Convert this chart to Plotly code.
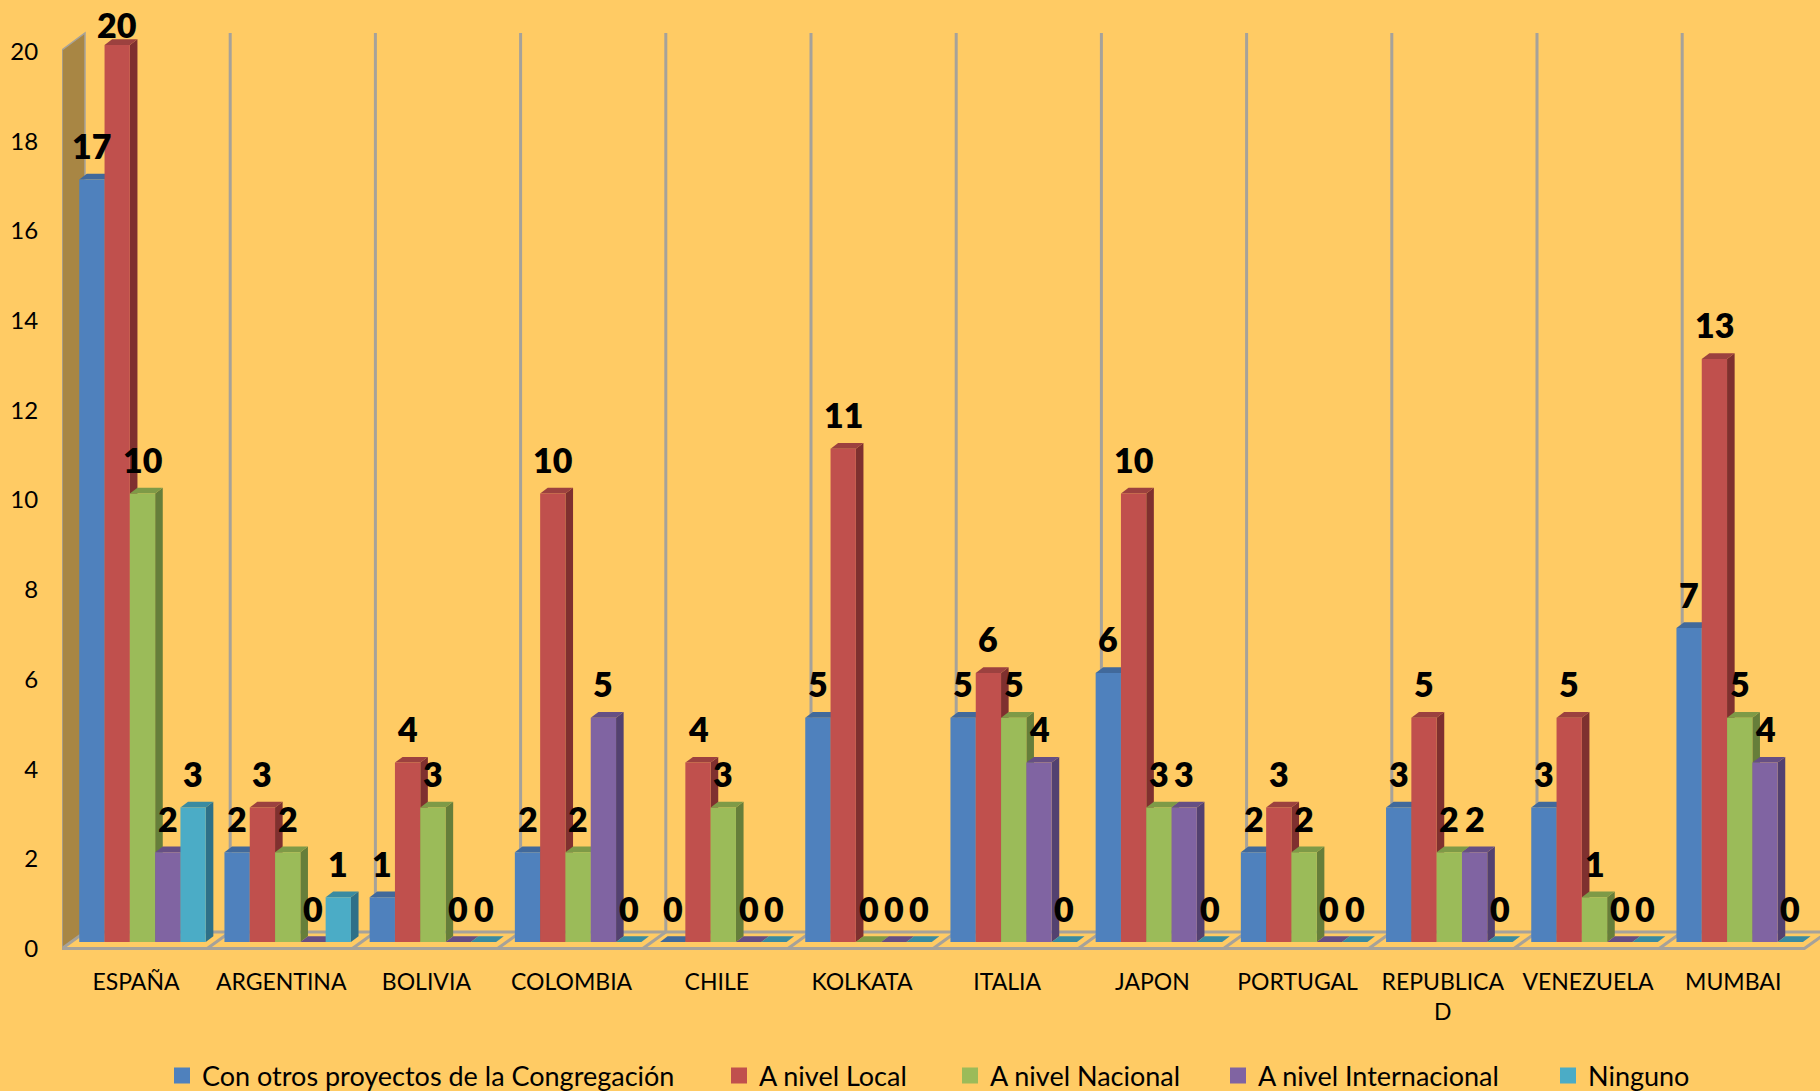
import plotly.graph_objects as go

categories = ["ESPAÑA", "ARGENTINA", "BOLIVIA", "COLOMBIA", "CHILE", "KOLKATA",
              "ITALIA", "JAPON", "PORTUGAL", "REPUBLICA<br>D", "VENEZUELA", "MUMBAI"]
proyectos = [17, 2, 1, 2, 0, 5, 5, 6, 2, 3, 3, 7]
local = [20, 3, 4, 10, 4, 11, 6, 10, 3, 5, 5, 13]
nacional = [10, 2, 3, 2, 3, 0, 5, 3, 2, 2, 1, 5]
internacional = [2, 0, 0, 5, 0, 0, 4, 3, 0, 2, 0, 4]
ninguno = [3, 1, 0, 0, 0, 0, 0, 0, 0, 0, 0, 0]
series_names = ["Con otros proyectos de la Congregación", "A nivel Local", "A nivel Nacional",
                "A nivel Internacional", "Ninguno"]
series_values = [proyectos, local, nacional, internacional, ninguno]
y_ticks = [0, 2, 4, 6, 8, 10, 12, 14, 16, 18, 20]

front = ["#4F81BD", "#C0504D", "#9BBB59", "#8064A2", "#4BACC6"]
top = ["#41699B", "#9C413F", "#7E9A47", "#664F84", "#3A8BA1"]
side = ["#375A85", "#7F302F", "#667E3A", "#534170", "#2E7088"]
BG = "#FFCB64"
GRID = "#A6A29A"
WALL = "#A88644"
FONT = "Lato"

W, H = 1820, 1091
L, B = 62, 960
PX_X = 145.2          # pixels per category
PX_Y = 44.85          # pixels per value unit
CX0 = 142.5           # pixel centre of first group
Y0 = 942              # pixel of value 0 on the bar plane
BAR = 25.3 / PX_X
DX, DY = 7.6 / PX_X, 5.7 / PX_Y
FX = lambda p: (p - CX0) / PX_X
FY = lambda p: (Y0 - p) / PX_Y


def path(pts):
    return "M" + " L".join(f"{x:.4f},{y:.4f}" for x, y in pts) + " Z"


def poly(pts, fill=None, line=None, lw=0):
    return dict(type="path", xref="x", yref="y", layer="below", path=path(pts),
                fillcolor=fill or "rgba(0,0,0,0)",
                line=dict(color=line or "rgba(0,0,0,0)", width=lw))


shapes = []
# frame: wall, back dividers, floor
wx0, wx1 = FX(62), FX(85)
yf, yb, ytf, ytb = FY(948.5), FY(932), FY(50), FY(33)
shapes.append(poly([(wx0, yf), (wx0, ytf), (wx1, ytb), (wx1, yb)], WALL, GRID, 1.5))
for k in range(1, 12):
    x = wx1 + k
    shapes.append(dict(type="line", xref="x", yref="y", layer="below", x0=x, x1=x, y0=yb, y1=ytb,
                       line=dict(color=GRID, width=3)))
shapes.append(poly([(wx0, yf), (wx0 + 12, yf), (wx1 + 12, yb), (wx1, yb)], None, GRID, 3))
for k in range(1, 12):
    shapes.append(dict(type="line", xref="x", yref="y", layer="below",
                       x0=wx0 + k, x1=wx1 + k, y0=yf, y1=yb, line=dict(color=GRID, width=3)))

# 3-D faces of the bars, painted series by series under the front faces
for k, vals in enumerate(series_values):
    for i, v in enumerate(vals):
        x0 = i + (k - 2.5) * BAR
        x1 = x0 + BAR
        shapes.append(poly([(x1, 0), (x1 + DX, DY), (x1 + DX, v + DY), (x1, v)], side[k]))
        shapes.append(poly([(x0, v), (x0 + DX, v + DY), (x1 + DX, v + DY), (x1, v)], top[k]))

fig = go.Figure()
xs = list(range(len(categories)))
for k, vals in enumerate(series_values):
    fig.add_trace(go.Bar(x=xs, y=vals, name=series_names[k], marker=dict(color=front[k], line=dict(width=0)),
                         showlegend=False, hoverinfo="x+y+name"))

legend_text_px = [202, 759, 990, 1258, 1588]
layout_legends = {}
for k, name in enumerate(series_names):
    key = "legend" if k == 0 else f"legend{k + 1}"
    fig.add_trace(go.Scatter(x=[None], y=[None], mode="markers", name=name, legend=key,
                             marker=dict(symbol="square", size=16, color=front[k], line=dict(width=0))))
    layout_legends[key] = dict(xref="container", yref="container", x=(legend_text_px[k] - 40) / W,
                               xanchor="left", y=1 - 1076 / H, yanchor="middle",
                               bgcolor="rgba(0,0,0,0)", itemsizing="trace", borderwidth=0,
                               font=dict(family=FONT, size=27, color="#000"),
                               itemclick=False, itemdoubleclick=False)

annotations = []
for k, vals in enumerate(series_values):
    for i, v in enumerate(vals):
        shift = min(34, Y0 - PX_Y * v - 24.5)
        annotations.append(dict(x=i + (k - 2) * BAR, y=v, xref="x", yref="y", text=str(v), showarrow=False,
                                xanchor="center", yanchor="middle", yshift=shift,
                                font=dict(family=FONT, size=34, color="#000", weight=800)))

fig.update_layout(
    width=W, height=H, autosize=False,
    margin=dict(l=L, r=0, t=0, b=H - B, pad=0, autoexpand=False),
    paper_bgcolor=BG, plot_bgcolor=BG,
    barmode="group", bargap=1 - 5 * BAR, bargroupgap=0,
    xaxis=dict(range=[FX(L), FX(W)], tickmode="array", tickvals=[i - 6.5 / PX_X for i in xs], ticktext=categories,
               showgrid=False, zeroline=False, showline=False, ticks="outside", ticklen=1,
               tickcolor="rgba(0,0,0,0)", tickfont=dict(family=FONT, size=23, color="#000"), tickangle=0,
               automargin=False),
    yaxis=dict(range=[FY(B), FY(0)], tickmode="array", tickvals=[v - 6.5 / PX_Y for v in y_ticks],
               ticktext=[str(v) for v in y_ticks], showgrid=False, zeroline=False, showline=False,
               ticks="outside", ticklen=18, tickcolor="rgba(0,0,0,0)",
               tickfont=dict(family=FONT, size=24, color="#000"), automargin=False),
    shapes=shapes, annotations=annotations, **layout_legends,
)
fig.write_html("out.html", config={"displayModeBar": False},
               post_script="document.body.style.margin='0';document.body.style.overflow='hidden';")
